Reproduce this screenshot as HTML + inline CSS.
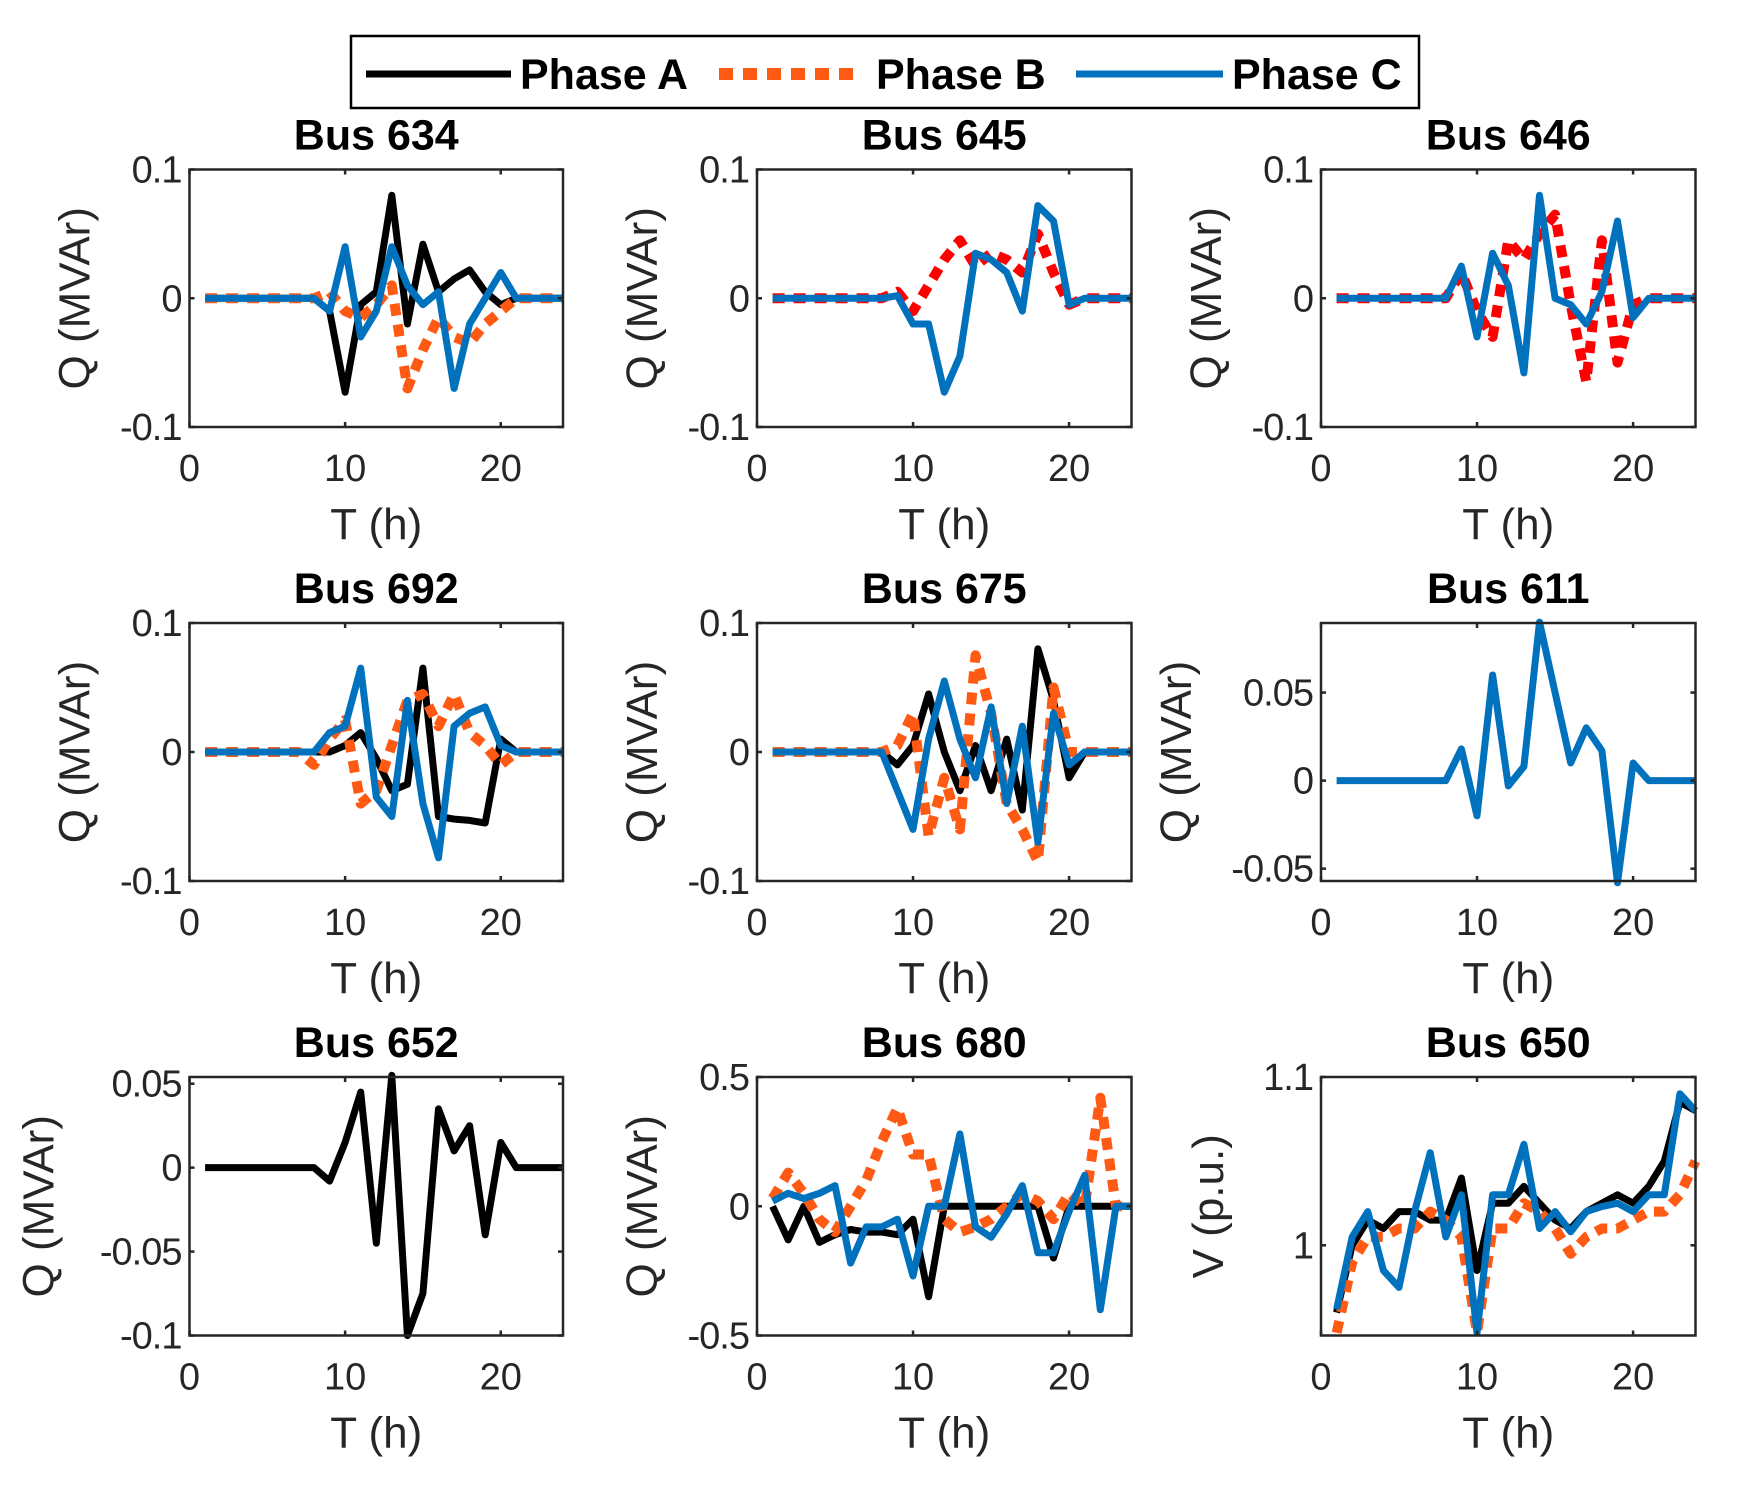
<!DOCTYPE html>
<html><head><meta charset="utf-8"><style>
html,body{margin:0;padding:0;background:#fff}
svg{display:block;font-family:"Liberation Sans",Arial,sans-serif}
</style></head><body>
<svg id="fig" width="1739" height="1485" viewBox="0 0 1739 1485" xmlns="http://www.w3.org/2000/svg">
<rect width="1739" height="1485" fill="#fff"/>
<g>
<rect x="351" y="36" width="1068" height="72" fill="#fff" stroke="#000" stroke-width="2.5"/>
<line x1="366" y1="74" x2="511" y2="74" stroke="#000" stroke-width="7"/>
<text x="520" y="89" font-size="43" font-weight="bold">Phase A</text>
<line x1="719" y1="74" x2="858" y2="74" stroke="#ff5a14" stroke-width="12" stroke-dasharray="14 10"/>
<text x="876" y="89" font-size="43" font-weight="bold">Phase B</text>
<line x1="1076" y1="74" x2="1223" y2="74" stroke="#0072BD" stroke-width="7"/>
<text x="1232" y="89" font-size="43" font-weight="bold">Phase C</text>
</g>
</svg>
<script>
const hours = [1,2,3,4,5,6,7,8,9,10,11,12,13,14,15,16,17,18,19,20,21,22,23,24];
const z8 = [0,0,0,0,0,0,0,0];
const bus634A = z8.concat([-0.01,-0.073,-0.005,0.005,0.08,-0.02,0.042,0.005,0.015,0.022,0.005,-0.005,0,0,0,0]);
const bus634B = z8.concat([0.005,-0.01,-0.015,-0.005,0.01,-0.07,-0.04,-0.015,-0.03,-0.035,-0.02,-0.01,0,0,0,0]);
const bus634C = z8.concat([-0.01,0.04,-0.03,-0.01,0.04,0.01,-0.005,0.005,-0.07,-0.02,0,0.02,0,0,0,0]);
const bus645B = z8.concat([0.005,-0.01,0.01,0.03,0.045,0.025,0.035,0.03,0.02,0.05,0.02,-0.005,0,0,0,0]);
const bus645C = z8.concat([0.002,-0.02,-0.02,-0.073,-0.045,0.035,0.03,0.02,-0.01,0.072,0.06,-0.005,0,0,0,0]);
const bus646B = z8.concat([0.02,-0.01,-0.03,0.045,0.03,0.05,0.065,-0.005,-0.065,0.045,-0.05,-0.005,0,0,0,0]);
const bus646C = z8.concat([0.025,-0.03,0.035,0.01,-0.058,0.08,0,-0.005,-0.02,0.005,0.06,-0.015,0,0,0,0]);
const bus692A = z8.concat([0,0.005,0.015,-0.005,-0.03,-0.025,0.065,-0.05,-0.052,-0.053,-0.055,0.01,0,0,0,0]);
const bus692B = [0,0,0,0,0,0,0,-0.01,0.01,0.025,-0.04,-0.03,0.005,0.04,0.045,0.02,0.045,0.015,0.005,-0.01,0,0,0,0];
const bus692C = z8.concat([0.015,0.02,0.065,-0.035,-0.05,0.04,-0.04,-0.082,0.02,0.03,0.035,0.005,0,0,0,0]);
const bus675A = z8.concat([-0.01,0.005,0.045,0,-0.03,0.005,-0.03,0.01,-0.045,0.08,0.04,-0.02,0,0,0,0]);
const bus675B = z8.concat([0.005,0.03,-0.065,-0.02,-0.06,0.075,0.03,-0.04,-0.06,-0.085,0.05,0,0,0,0,0]);
const bus675C = z8.concat([-0.03,-0.06,0.01,0.055,0.01,-0.02,0.035,-0.04,0.02,-0.07,0.03,-0.01,0,0,0,0]);
const bus611C = z8.concat([0.018,-0.02,0.06,-0.003,0.008,0.09,0.05,0.01,0.03,0.017,-0.058,0.01,0,0,0,0]);
const bus652A = z8.concat([-0.008,0.015,0.045,-0.045,0.055,-0.1,-0.075,0.035,0.01,0.025,-0.04,0.015,0,0,0,0]);
const bus680A = [0,-0.13,0,-0.14,-0.11,-0.09,-0.1,-0.1,-0.11,-0.05,-0.35,0,0,0,0,0,0,0,-0.2,0,0,0,0,0];
const bus680B = [0.03,0.13,0.05,-0.05,-0.1,0,0.1,0.25,0.38,0.2,0.2,-0.05,-0.1,-0.08,-0.05,0,0.05,0.02,-0.05,0.05,0,0.42,0,0];
const bus680C = [0.02,0.05,0.03,0.05,0.08,-0.22,-0.08,-0.08,-0.05,-0.27,0,0,0.28,-0.08,-0.12,-0.03,0.08,-0.18,-0.18,-0.02,0.12,-0.4,0,0];
const bus650A = [0.96,1.0,1.015,1.01,1.02,1.02,1.015,1.015,1.04,0.985,1.025,1.025,1.035,1.025,1.015,1.01,1.02,1.025,1.03,1.025,1.035,1.05,1.085,1.08];
const bus650B = [0.948,0.99,1.005,1.005,1.01,1.01,1.02,1.015,1.005,0.948,1.01,1.01,1.025,1.02,1.01,0.995,1.005,1.01,1.01,1.015,1.02,1.02,1.03,1.05];
const bus650C = [0.962,1.005,1.02,0.985,0.975,1.02,1.055,1.005,1.03,0.948,1.03,1.03,1.06,1.01,1.02,1.008,1.02,1.023,1.025,1.02,1.03,1.03,1.09,1.08];
const qTicks = [-0.1,0,0.1];
const qTickLabels = ["-0.1","0","0.1"];
const t611 = [-0.05,0,0.05];
const t611Labels = ["-0.05","0","0.05"];
const t652 = [-0.1,-0.05,0,0.05];
const t652Labels = ["-0.1","-0.05","0","0.05"];
const t680 = [-0.5,0,0.5];
const t680Labels = ["-0.5","0","0.5"];
const t650 = [1,1.1];
const t650Labels = ["1","1.1"];
const xTicks = [0,10,20];
const xTickLabels = ["0","10","20"];

const colX=[[189.5,563],[757,1131.5],[1321,1695.5]];
const rowY=[[169.5,427],[623,881],[1077,1335.5]];
const ORANGE="#ff5a14", RED="#ff0000", BLUE="#0072BD";
const NS="http://www.w3.org/2000/svg";
const svg=document.getElementById('fig');
function mk(tag,attrs,parent){const e=document.createElementNS(NS,tag);for(const k in attrs)e.setAttribute(k,attrs[k]);(parent||svg).appendChild(e);return e;}

const panels=[
 {title:"Bus 634",c:0,r:0,ymin:-0.1,ymax:0.1,ticks:qTicks,tl:qTickLabels,yl:"Q (MVAr)",series:[[bus634A,"#000",false],[bus634B,ORANGE,true],[bus634C,BLUE,false]]},
 {title:"Bus 645",c:1,r:0,ymin:-0.1,ymax:0.1,ticks:qTicks,tl:qTickLabels,yl:"Q (MVAr)",series:[[bus645B,RED,true],[bus645C,BLUE,false]]},
 {title:"Bus 646",c:2,r:0,ymin:-0.1,ymax:0.1,ticks:qTicks,tl:qTickLabels,yl:"Q (MVAr)",series:[[bus646B,RED,true],[bus646C,BLUE,false]]},
 {title:"Bus 692",c:0,r:1,ymin:-0.1,ymax:0.1,ticks:qTicks,tl:qTickLabels,yl:"Q (MVAr)",series:[[bus692A,"#000",false],[bus692B,ORANGE,true],[bus692C,BLUE,false]]},
 {title:"Bus 675",c:1,r:1,ymin:-0.1,ymax:0.1,ticks:qTicks,tl:qTickLabels,yl:"Q (MVAr)",series:[[bus675A,"#000",false],[bus675B,ORANGE,true],[bus675C,BLUE,false]]},
 {title:"Bus 611",c:2,r:1,ymin:-0.057,ymax:0.0895,ticks:t611,tl:t611Labels,yl:"Q (MVAr)",ylx:-130,series:[[bus611C,BLUE,false]]},
 {title:"Bus 652",c:0,r:2,ymin:-0.1,ymax:0.054,ticks:t652,tl:t652Labels,yl:"Q (MVAr)",ylx:-136,series:[[bus652A,"#000",false]]},
 {title:"Bus 680",c:1,r:2,ymin:-0.5,ymax:0.5,ticks:t680,tl:t680Labels,yl:"Q (MVAr)",series:[[bus680A,"#000",false],[bus680B,ORANGE,true],[bus680C,BLUE,false]]},
 {title:"Bus 650",c:2,r:2,ymin:0.9464,ymax:1.1,ticks:t650,tl:t650Labels,yl:"V (p.u.)",ylx:-98,series:[[bus650A,"#000",false],[bus650B,ORANGE,true],[bus650C,BLUE,false]]}
];
const names=["phase-a","phase-b","phase-c"];
panels.forEach(p=>{
  const [x0,x1]=colX[p.c],[y0,y1]=rowY[p.r];
  const id=p.title.replace(' ','-').toLowerCase();
  const g=mk('g',{});
  
  
  const sx=v=>x0+(v-0)/24*(x1-x0);
  const sy=v=>y1-(v-p.ymin)/(p.ymax-p.ymin)*(y1-y0);
  const clipId='clip-'+id;
  const cp=mk('clipPath',{id:clipId},g);
  mk('rect',{x:x0-6,y:y0-6,width:x1-x0+12,height:y1-y0+12},cp);
  p.series.forEach((s,i)=>{
    const pts=s[0].map((v,k)=>sx(hours[k]).toFixed(1)+','+sy(v).toFixed(1)).join(' ');
    const a={points:pts,fill:'none',stroke:s[1],'stroke-width':s[2]?10:7,'stroke-linejoin':'round','clip-path':'url(#'+clipId+')'};
    if(s[2]){a['stroke-dasharray']='12 9';}
    const pl=mk('polyline',a,g);
    const nm=p.series.length===1?(s[1]===BLUE?'phase-c':'phase-a'):(p.series.length===2?names[i+1]:names[i]);
    
    
  });
  const box=mk('rect',{x:x0,y:y0,width:x1-x0,height:y1-y0,fill:'none',stroke:'#262626','stroke-width':2.5},g);
  
  
  xTicks.forEach((t,i)=>{
    const x=sx(t);
    mk('line',{x1:x,y1:y1,x2:x,y2:y1-5,stroke:'#262626','stroke-width':2.5},g);
    mk('line',{x1:x,y1:y0,x2:x,y2:y0+5,stroke:'#262626','stroke-width':2.5},g);
    const tx=mk('text',{x:x,y:y1+54,'font-size':38,fill:'#262626','text-anchor':'middle'},g);
    tx.textContent=xTickLabels[i];
    
    
  });
  p.ticks.forEach((t,i)=>{
    const y=sy(t);
    mk('line',{x1:x0,y1:y,x2:x0+5,y2:y,stroke:'#262626','stroke-width':2.5},g);
    mk('line',{x1:x1,y1:y,x2:x1-5,y2:y,stroke:'#262626','stroke-width':2.5},g);
    const ty=mk('text',{x:x0-8,y:y+13,'font-size':38,fill:'#262626','text-anchor':'end','letter-spacing':'-1'},g);
    ty.textContent=p.tl[i];
    
    
  });
  const tt=mk('text',{x:(x0+x1)/2,y:y0-20,'font-size':43,'font-weight':'bold','text-anchor':'middle',fill:'#000'},g);
  tt.textContent=p.title;
  
  
  const xl=mk('text',{x:(x0+x1)/2,y:y1+112,'font-size':44,'text-anchor':'middle',fill:'#262626'},g);
  xl.textContent="T (h)";
  
  
  const lx=x0+(p.ylx||-100), ly=(y0+y1)/2;
  const yl=mk('text',{x:lx,y:ly,'font-size':44,'text-anchor':'middle',fill:'#262626',transform:'rotate(-90 '+lx+' '+ly+')'},g);
  yl.textContent=p.yl;
  
  
});
</script>
</body></html>
